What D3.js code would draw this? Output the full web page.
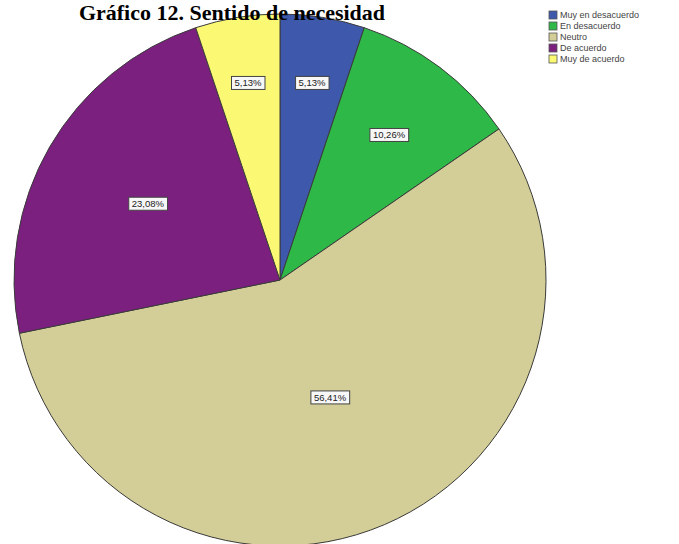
<!DOCTYPE html>
<html>
<head>
<meta charset="utf-8">
<script src="https://cdn.jsdelivr.net/npm/d3@7"></script>
<style>
  html, body { margin: 0; padding: 0; background: #ffffff; }
  svg { display: block; }
</style>
</head>
<body>
<svg id="chart" width="679" height="544"></svg>
<script>
// Respuestas: "Sentido de necesidad"
const categories = ["Muy en desacuerdo", "En desacuerdo", "Neutro", "De acuerdo", "Muy de acuerdo"];
const percentages = [5.13, 10.26, 56.41, 23.08, 5.13];
const colors = ["#3E58AC", "#2EB848", "#D3CE97", "#7C207F", "#FBF873"];
const title = "Gráfico 12. Sentido de necesidad";

const width = 679, height = 544;
const cx = 280, cy = 280, radius = 266;

const svg = d3.select("#chart");

const locale = d3.formatLocale({ decimal: ",", thousands: ".", grouping: [3], currency: ["", "€"] });
const fmt = v => locale.format(".2f")(v) + "%";

const data = categories.map((c, i) => ({ name: c, value: percentages[i], color: colors[i] }));

const pie = d3.pie().value(d => d.value).sort(null);
const arc = d3.arc().innerRadius(0).outerRadius(radius);
const arcs = pie(data);

const g = svg.append("g").attr("transform", `translate(${cx},${cy})`);

g.selectAll("path.slice")
  .data(arcs)
  .join("path")
  .attr("class", "slice")
  .attr("d", arc)
  .attr("fill", d => d.data.color)
  .attr("stroke", "#3a3a3a")
  .attr("stroke-width", 1)
  .attr("stroke-linejoin", "round");

// Labels sit on the mid-angle; narrow slices push their label further out
const labelDist = d => {
  const half = (d.endAngle - d.startAngle) / 2;
  return radius * (0.46 + 0.38 * Math.exp(-half / 0.6));
};

const labels = g.selectAll("g.lbl")
  .data(arcs)
  .join("g")
  .attr("class", "lbl")
  .attr("transform", d => {
    const mid = (d.startAngle + d.endAngle) / 2;
    const dist = labelDist(d);
    return `translate(${dist * Math.sin(mid)},${-dist * Math.cos(mid)})`;
  });

labels.each(function(d) {
  const sel = d3.select(this);
  const t = sel.append("text")
    .attr("text-anchor", "middle")
    .attr("dominant-baseline", "central")
    .attr("font-family", "Liberation Sans, Arial, sans-serif")
    .attr("font-size", 9.5)
    .attr("fill", "#222")
    .text(fmt(d.data.value));
  const bb = t.node().getBBox();
  sel.insert("rect", "text")
    .attr("x", bb.x - 3)
    .attr("y", -6.5)
    .attr("width", bb.width + 6)
    .attr("height", 13)
    .attr("fill", "#f7f7f7")
    .attr("stroke", "#444")
    .attr("stroke-width", 1);
});

// Title
svg.append("text")
  .attr("x", 232)
  .attr("y", 20)
  .attr("text-anchor", "middle")
  .attr("font-family", "Liberation Serif, Times New Roman, serif")
  .attr("font-weight", "bold")
  .attr("font-size", 22)
  .attr("fill", "#000")
  .text(title);

// Legend
const legend = svg.append("g").attr("transform", "translate(549,11)");
const rowH = 11;
const item = legend.selectAll("g.item")
  .data(data)
  .join("g")
  .attr("class", "item")
  .attr("transform", (d, i) => `translate(0,${i * rowH})`);

item.append("rect")
  .attr("width", 8)
  .attr("height", 8)
  .attr("fill", d => d.color)
  .attr("stroke", "#555")
  .attr("stroke-width", 0.8);

item.append("text")
  .attr("x", 11)
  .attr("y", 4)
  .attr("dominant-baseline", "central")
  .attr("font-family", "Liberation Sans, Arial, sans-serif")
  .attr("font-size", 9)
  .attr("fill", "#444")
  .text(d => d.name);
</script>
</body>
</html>
